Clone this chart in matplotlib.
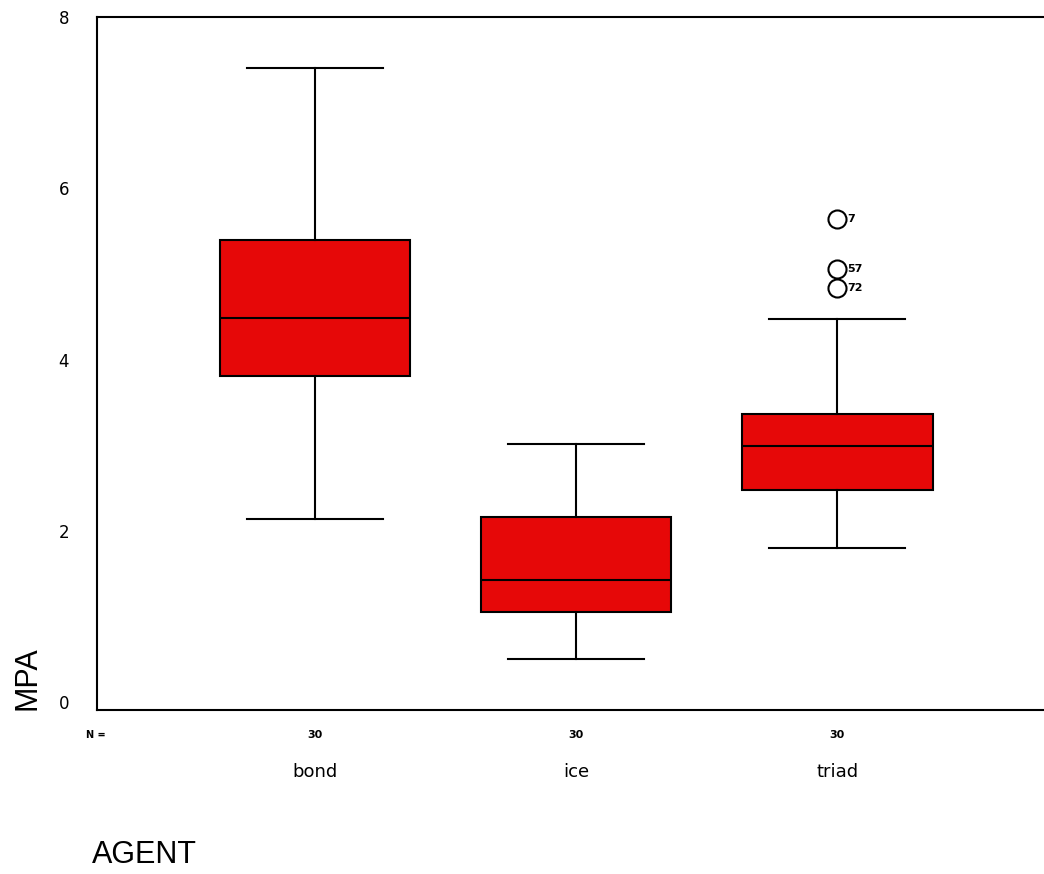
import matplotlib
matplotlib.use("Agg")
import matplotlib.pyplot as plt
import matplotlib.transforms as mtrans

categories = ["bond", "ice", "triad"]
n_counts = [30, 30, 30]
whisker_low = [2.14, 0.51, 1.80]
q1 = [3.81, 1.05, 2.48]
median = [4.49, 1.43, 2.99]
q3 = [5.40, 2.16, 3.36]
whisker_high = [7.41, 3.02, 4.47]
outliers = [[], [], [5.64, 5.06, 4.84]]
outlier_labels = [[], [], ["7", "57", "72"]]
y_ticks = [0, 2, 4, 6, 8]

box_color = "#e60808"

fig = plt.figure(figsize=(10.44, 8.74), dpi=100)
ax = fig.add_axes([97/1044, 1 - 710/874, 1 - 97/1044 + 0.002, (710 - 17)/874])

positions = list(range(1, len(categories) + 1))
stats = []
for i, c in enumerate(categories):
    stats.append(dict(label=c, med=median[i], q1=q1[i], q3=q3[i],
                      whislo=whisker_low[i], whishi=whisker_high[i],
                      fliers=outliers[i]))

ax.bxp(stats, positions=positions, widths=0.73, patch_artist=True,
       showfliers=True,
       boxprops=dict(facecolor=box_color, edgecolor="black", linewidth=1.5),
       medianprops=dict(color="black", linewidth=1.5),
       whiskerprops=dict(color="black", linewidth=1.5),
       capprops=dict(color="black", linewidth=1.5),
       capwidths=0.52,
       flierprops=dict(marker="o", markersize=13, markerfacecolor="white",
                       markeredgecolor="black", markeredgewidth=1.5))

for i, (vals, labs) in enumerate(zip(outliers, outlier_labels)):
    for v, lab in zip(vals, labs):
        ax.annotate(lab, (positions[i], v), xytext=(7, 0), textcoords="offset points",
                    fontsize=8, fontweight="bold", va="center", ha="left")

ax.set_xlim(0.165, 3.80)
ax.set_ylim(-0.09, 8.0)
ax.set_yticks(y_ticks)
ax.set_yticklabels([str(t) for t in y_ticks], fontsize=12)
ax.tick_params(axis="y", length=0, pad=20)
ax.set_xticks(positions)
ax.set_xticklabels(categories, fontsize=13)
ax.tick_params(axis="x", length=0, pad=38)
ax.spines["right"].set_visible(False)
for s in ["left", "top", "bottom"]:
    ax.spines[s].set_linewidth(1.5)

trans = mtrans.blended_transform_factory(ax.transData, ax.transAxes)
y_n = -(735 - 710) / 693
for p, n in zip(positions, n_counts):
    ax.text(p, y_n, str(n), transform=trans, ha="center", va="center",
            fontsize=8, fontweight="bold")
fig.text(86/1044, 1 - 735/874, "N =", ha="left", va="center", fontsize=7, fontweight="bold")

fig.text(92/1044, 1 - 855/874, "AGENT", ha="left", va="center", fontsize=22,
         family="Liberation Sans")
fig.text(28/1044, 1 - 710/874, "MPA", ha="center", va="bottom", rotation=90,
         fontsize=22, family="Liberation Sans")

fig.savefig("out.png", dpi=100, facecolor="white")
